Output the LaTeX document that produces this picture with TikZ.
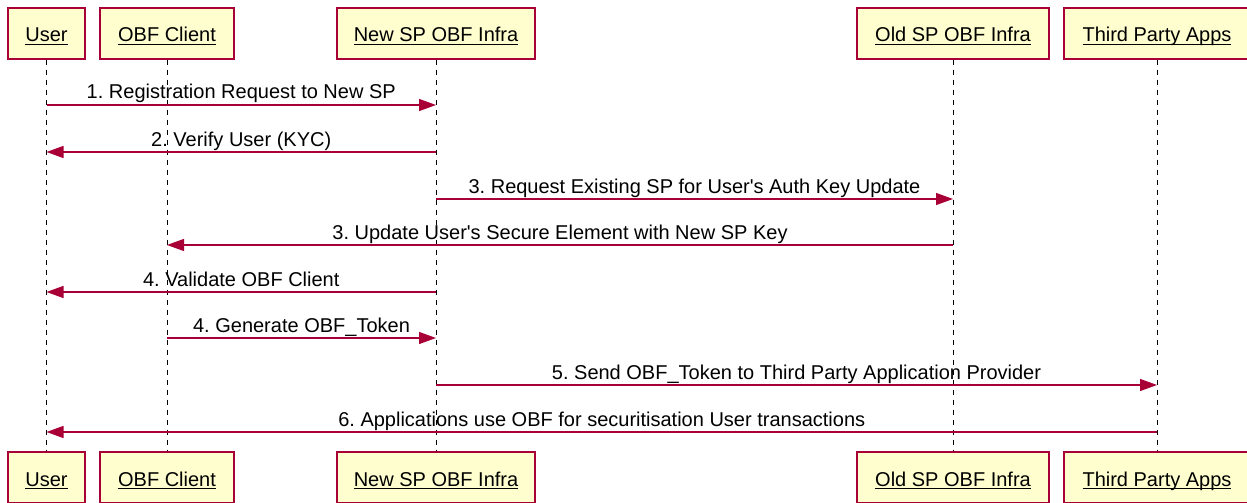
\documentclass[tikz,border=0pt]{standalone}
\usepackage{amsmath}
\usepackage{fontspec}
\setmainfont{Liberation Sans}
\usetikzlibrary{arrows.meta}
\definecolor{pborder}{HTML}{A80036}
\definecolor{pfill}{HTML}{FEFECE}
\newcommand{\pname}[1]{\underline{\smash[b]{#1}}}
\begin{document}
\frenchspacing
\begin{tikzpicture}[x=1pt,y=-1pt,
  participant/.style={draw=pborder, fill=pfill, line width=1.3pt, minimum height=51pt, inner sep=0pt, text height=18pt, text depth=1pt, font=\fontsize{20}{24}\selectfont},
  msg/.style={draw=pborder, line width=1.2pt, -{Triangle[length=17pt,width=12pt]}},
  lbl/.style={font=\fontsize{20}{24}\selectfont, anchor=base, inner sep=0pt, yshift=6pt},
  life/.style={line width=1pt, dash pattern=on 5pt off 5pt}]
\useasboundingbox (0,0) rectangle (1247,503);
% top participants
\node[participant, minimum width=77pt]  (userT) at (46.5,33.5) {\pname{User}};
\node[participant, minimum width=134pt] (obfT)  at (167,33.5) {\pname{OBF Client}};
\node[participant, minimum width=198pt] (newT)  at (436,33.5) {\pname{New SP OBF Infra}};
\node[participant, minimum width=192pt] (oldT)  at (953,33.5) {\pname{Old SP OBF Infra}};
\node[participant, minimum width=186pt] (tpT)   at (1157,33.5) {\pname{Third Party Apps}};
% bottom participants
\node[participant, minimum width=77pt]  (userB) at (46.5,477.5) {\pname{User}};
\node[participant, minimum width=134pt] (obfB)  at (167,477.5) {\pname{OBF Client}};
\node[participant, minimum width=198pt] (newB)  at (436,477.5) {\pname{New SP OBF Infra}};
\node[participant, minimum width=192pt] (oldB)  at (953,477.5) {\pname{Old SP OBF Infra}};
\node[participant, minimum width=186pt] (tpB)   at (1157,477.5) {\pname{Third Party Apps}};
% lifelines
\draw[life] (userT.south) -- (userB.north);
\draw[life] (obfT.south) -- (obfB.north);
\draw[life] (newT.south) -- (newB.north);
\draw[life] (oldT.south) -- (oldB.north);
\draw[life] (tpT.south) -- (tpB.north);
% messages
\draw[msg] (userT |- 0,105) -- (newT |- 0,105) node[lbl, midway] {1. Registration Request to New SP};
\draw[msg] (newT |- 0,152) -- (userT |- 0,152) node[lbl, midway] {2. Verify User (KYC)};
\draw[msg] (newT |- 0,199) -- (oldT |- 0,199) node[lbl, midway] {3. Request Existing SP for User\textquotesingle s Auth Key Update};
\draw[msg] (oldT |- 0,245) -- (obfT |- 0,245) node[lbl, midway] {3. Update User\textquotesingle s Secure Element with New SP Key};
\draw[msg] (newT |- 0,292) -- (userT |- 0,292) node[lbl, midway] {4. Validate OBF Client};
\draw[msg] (obfT |- 0,338) -- (newT |- 0,338) node[lbl, midway] {4. Generate OBF\_Token};
\draw[msg] (newT |- 0,385) -- (tpT |- 0,385) node[lbl, midway] {5. Send OBF\_Token to Third Party Application Provider};
\draw[msg] (tpT |- 0,432) -- (userT |- 0,432) node[lbl, midway] {6. Applications use OBF for securitisation User transactions};
\end{tikzpicture}
\end{document}
